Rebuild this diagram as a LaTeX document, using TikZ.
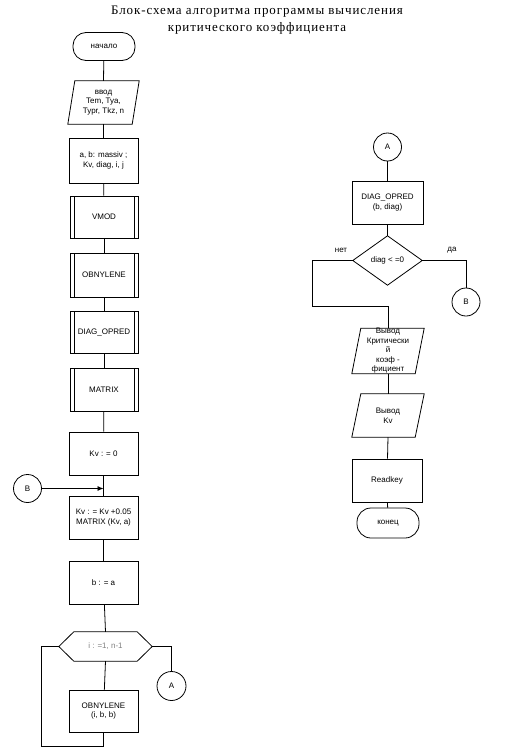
\documentclass[tikz,border=0pt]{standalone}
\usepackage{fontspec}
\setmainfont{Liberation Serif}
\newfontfamily\arialf{Liberation Sans}
\usetikzlibrary{arrows.meta}
\begin{document}
\begin{tikzpicture}[x=1pt,y=-1pt,
  every node/.style={font=\arialf\fontsize{8}{9.5}\selectfont, inner sep=0pt, align=center},
  lin/.style={line width=0.8pt},
  box/.style={draw, line width=0.8pt, minimum width=69pt, minimum height=43pt},
  subr/.style={box, path picture={
     \draw[line width=0.8pt] ([xshift=4pt]path picture bounding box.north west) -- ([xshift=4pt]path picture bounding box.south west);
     \draw[line width=0.8pt] ([xshift=-4pt]path picture bounding box.north east) -- ([xshift=-4pt]path picture bounding box.south east);}},
  term/.style={draw, line width=0.8pt, minimum width=62pt, minimum height=28pt, rounded corners=13pt},
  iobox/.style={minimum width=64pt, minimum height=43pt},
  conn/.style={draw, circle, line width=0.8pt, minimum size=28pt},
  lbl/.style={font=\arialf\fontsize{8}{9.5}\selectfont}
]
\useasboundingbox (0,0) rectangle (507,755);

% title
\node[font=\fontsize{13}{17}\selectfont\addfontfeature{LetterSpace=7}] (title) at (257,20)
  {Блок-схема алгоритма программы вычисления\\критического коэффициента};

% left column
\node[term] (start) at (104,46.5) {начало};
\node[iobox] (inp) at (103.5,102.5) {ввод\\Tem, Tya,\\Typr, Tkz, n};
\draw[lin] ([xshift=3.5pt]inp.north west) -- ([xshift=3.5pt]inp.north east)
  -- ([xshift=-3.5pt]inp.south east) -- ([xshift=-3.5pt]inp.south west) -- cycle;
\node[box, minimum height=45pt] (decl) at (103.5,160.5) {a, b: massiv ;\\Kv, diag, i, j};
\node[subr, minimum width=68pt, minimum height=42pt] (vmod) at (104,217) {VMOD};
\node[subr, minimum width=68pt, minimum height=44pt] (obn) at (104,275) {OBNYLENE};
\node[subr, minimum width=68pt, minimum height=42pt] (dgo) at (104,332) {DIAG\_OPRED};
\node[subr, minimum width=68pt, minimum height=43pt] (mtx) at (104,389.5) {MATRIX};
\node[box] (kv0) at (103.5,453.5) {Kv : = 0};
\node[box] (kv) at (103.5,517.5) {Kv : = Kv +0.05\\MATRIX (Kv, a)};
\node[box] (ba) at (103.5,582.5) {b : = a};
\node[minimum width=93pt, minimum height=29pt, text=black!50] (hex) at (105.5,646.5) {i : =1, n-1};
\draw[lin] (hex.west) -- ([xshift=15pt]hex.north west) -- ([xshift=-15pt]hex.north east)
  -- (hex.east) -- ([xshift=-15pt]hex.south east) -- ([xshift=15pt]hex.south west) -- cycle;
\node[box, minimum height=42pt] (obn2) at (103.5,711) {OBNYLENE\\(i, b, b)};
\node[conn] (B) at (27.5,488.5) {B};
\node[conn, minimum size=29pt] (A) at (171.5,686) {A};
\coordinate (loop) at (41,746);

\draw[lin] (start) -- (inp.north);
\draw[lin] (inp.south) -- (decl);
\draw[lin] (decl) -- (vmod);
\draw[lin] (vmod) -- (obn);
\draw[lin] (obn) -- (dgo);
\draw[lin] (dgo) -- (mtx);
\draw[lin] (mtx) -- (kv0);
\draw[lin] (kv0) -- (kv);
\draw[lin] (kv) -- (ba);
\draw[lin] (ba) -- (hex.north);
\draw[lin] (hex.south) -- (obn2);
\draw[lin] (hex.west) -| (loop) -| (obn2.south);
\draw[lin] (hex.east) -| (A.north);
\draw[lin, -{Latex[length=6pt,width=5pt]}] (B.east) -- (B.east -| kv.north);

% right column
\node[conn] (A2) at (387.5,147) {A};
\node[box, minimum width=71pt] (dop) at (387.5,202.5) {DIAG\_OPRED\\(b, diag)};
\node[minimum width=69pt, minimum height=49pt] (dia) at (387.5,260.5) {diag < =0};
\draw[lin] (dia.north) -- (dia.east) -- (dia.south) -- (dia.west) -- cycle;
\node[conn] (B2) at (466,302) {B};
\node[lbl] (no) at (341,250) {нет};
\node[lbl] (yes) at (452,250) {да};
\node[minimum width=63pt, minimum height=42pt] (out1) at (388,351) {Вывод\\Критически\\й\\коэф -\\фициент};
\draw[lin] ([xshift=4.5pt]out1.north west) -- ([xshift=4.5pt]out1.north east)
  -- ([xshift=-4.5pt]out1.south east) -- ([xshift=-4.5pt]out1.south west) -- cycle;
\node[minimum width=63pt, minimum height=43pt] (out2) at (388,415.5) {Вывод\\Kv};
\draw[lin] ([xshift=4.5pt]out2.north west) -- ([xshift=4.5pt]out2.north east)
  -- ([xshift=-4.5pt]out2.south east) -- ([xshift=-4.5pt]out2.south west) -- cycle;
\node[box, minimum width=70pt] (rk) at (387,480.5) {Readkey};
\node[term, minimum height=30pt, rounded corners=14pt] (end) at (388,523) {конец};
\coordinate (jn) at (312,306.5);

\draw[lin] (A2) -- (dop);
\draw[lin] (dop) -- (dia.north);
\draw[lin] (dia.east) -| (B2.north);
\draw[lin] (dia.west) -| (jn) -| (out1.north);
\draw[lin] (out1.south) -- (out2.north);
\draw[lin] (out2.south) -- (rk);
\draw[lin] (rk) -- (end);
\end{tikzpicture}
\end{document}
